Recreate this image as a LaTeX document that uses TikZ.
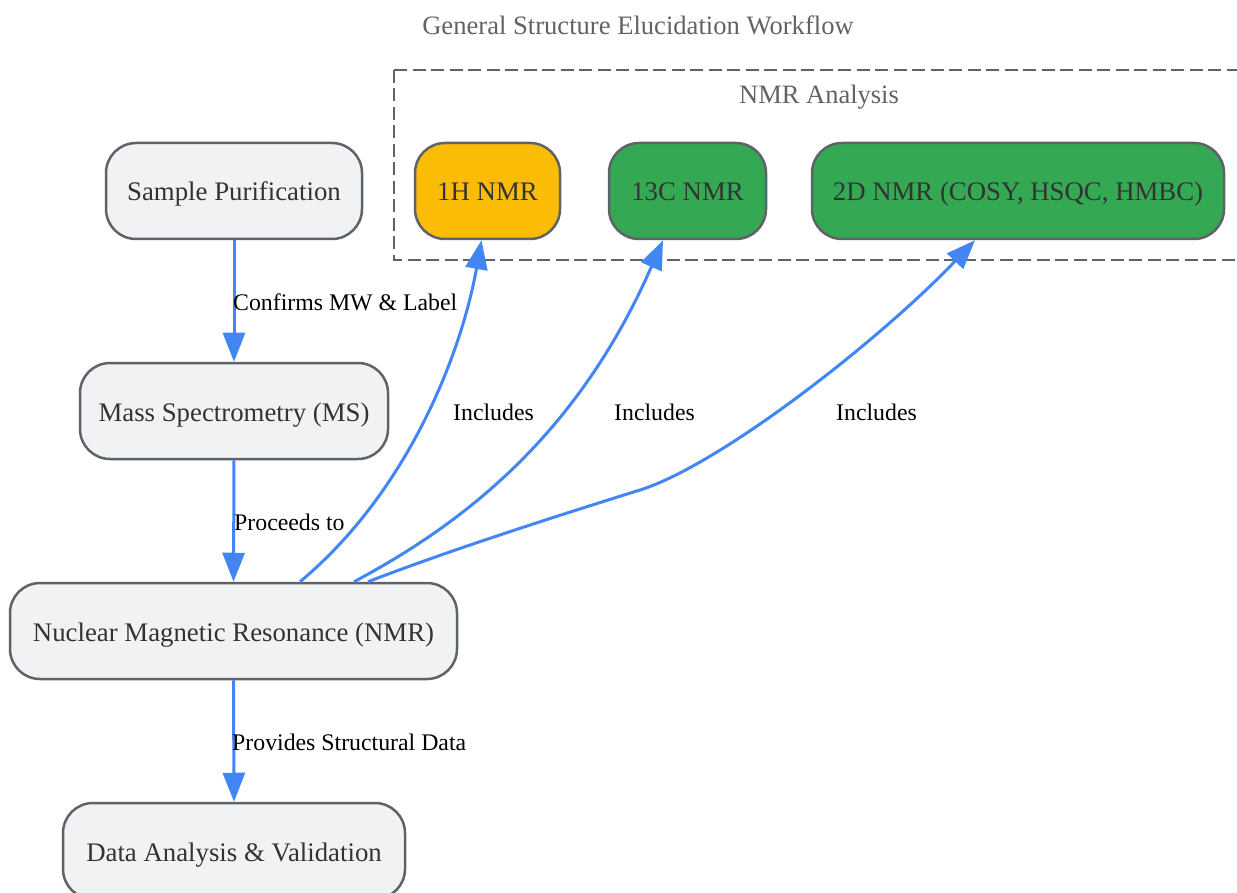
\documentclass[tikz,border=0pt]{standalone}
\usepackage{fontspec}
\setmainfont{Liberation Serif}
\usetikzlibrary{arrows.meta}
\definecolor{nodefill}{HTML}{F1F2F4}
\definecolor{nodeborder}{HTML}{5F6368}
\definecolor{txt}{HTML}{333333}
\definecolor{edgeblue}{HTML}{4285F4}
\definecolor{yel}{HTML}{FBBC05}
\definecolor{grn}{HTML}{34A853}
\tikzset{
  box/.style={draw=nodeborder, line width=2.5pt, rounded corners=30pt, fill=nodefill,
    text=txt, font=\fontsize{26.8}{30}\selectfont, minimum height=96pt, inner sep=0pt,
    text height=23pt, text depth=3pt, anchor=center},
  conn/.style={draw=edgeblue, line width=3pt, -{Triangle[length=29pt,width=22pt]}},
  elabel/.style={font=\fontsize{23.8}{27}\selectfont, text=black, anchor=west, inner sep=0pt},
}
\begin{document}
\begin{tikzpicture}[x=1pt,y=-1pt]
\useasboundingbox (0,0) rectangle (1237,893);
% title
\node[font=\fontsize{26.6}{30}\selectfont, text=nodeborder] (title) at (638,25) {General Structure Elucidation Workflow};
% cluster
\draw[nodeborder, line width=2.8pt, dash pattern=on 13pt off 5.5pt] (394,70) -- (1245,70) (394,70) -- (394,260) -- (1245,260);
\node[font=\fontsize{26.5}{30}\selectfont, text=nodeborder] (clabel) at (819,97.5) {NMR Analysis};
% nodes
\node[box, minimum width=256pt] (sp) at (234,191) {Sample Purification};
\node[box, minimum width=308pt] (ms) at (234,411) {Mass Spectrometry (MS)};
\node[box, minimum width=447pt] (nmr) at (233.5,631) {Nuclear Magnetic Resonance (NMR)};
\node[box, minimum width=342pt] (da) at (234,851) {Data Analysis \& Validation};
\node[box, minimum width=145pt, fill=yel] (h1) at (487.5,191) {1H NMR};
\node[box, minimum width=157pt, fill=grn] (c13) at (687.5,191) {13C NMR};
\node[box, minimum width=412pt, fill=grn] (d2) at (1018,191) {2D NMR (COSY, HSQC, HMBC)};
% straight connectors
\draw[conn] (sp.south) -- (ms.north);
\draw[conn] (ms.south) -- (nmr.north);
\draw[conn] (nmr.south) -- (da.north);
\node[elabel] (l1) at (233,302) {Confirms MW \& Label};
\node[elabel] (l2) at (234,522) {Proceeds to};
\node[elabel] (l3) at (232,742) {Provides Structural Data};
% curved connectors
\draw[conn] ([xshift=66.5pt]nmr.north) .. controls (410,490) and (462,350) .. ([xshift=-6pt]h1.south);
\draw[conn] ([xshift=120.5pt]nmr.north) .. controls (470,520) and (580,430) .. ([xshift=-24.5pt]c13.south);
\draw[conn] ([xshift=134.5pt]nmr.north) .. controls (450,550) and (560,515) .. (640,490) .. controls (720,465) and (880,340) .. ([xshift=-43pt]d2.south);
\node[elabel] (i1) at (453,412) {Includes};
\node[elabel] (i2) at (614,412) {Includes};
\node[elabel] (i3) at (836,412) {Includes};
\end{tikzpicture}
\end{document}
